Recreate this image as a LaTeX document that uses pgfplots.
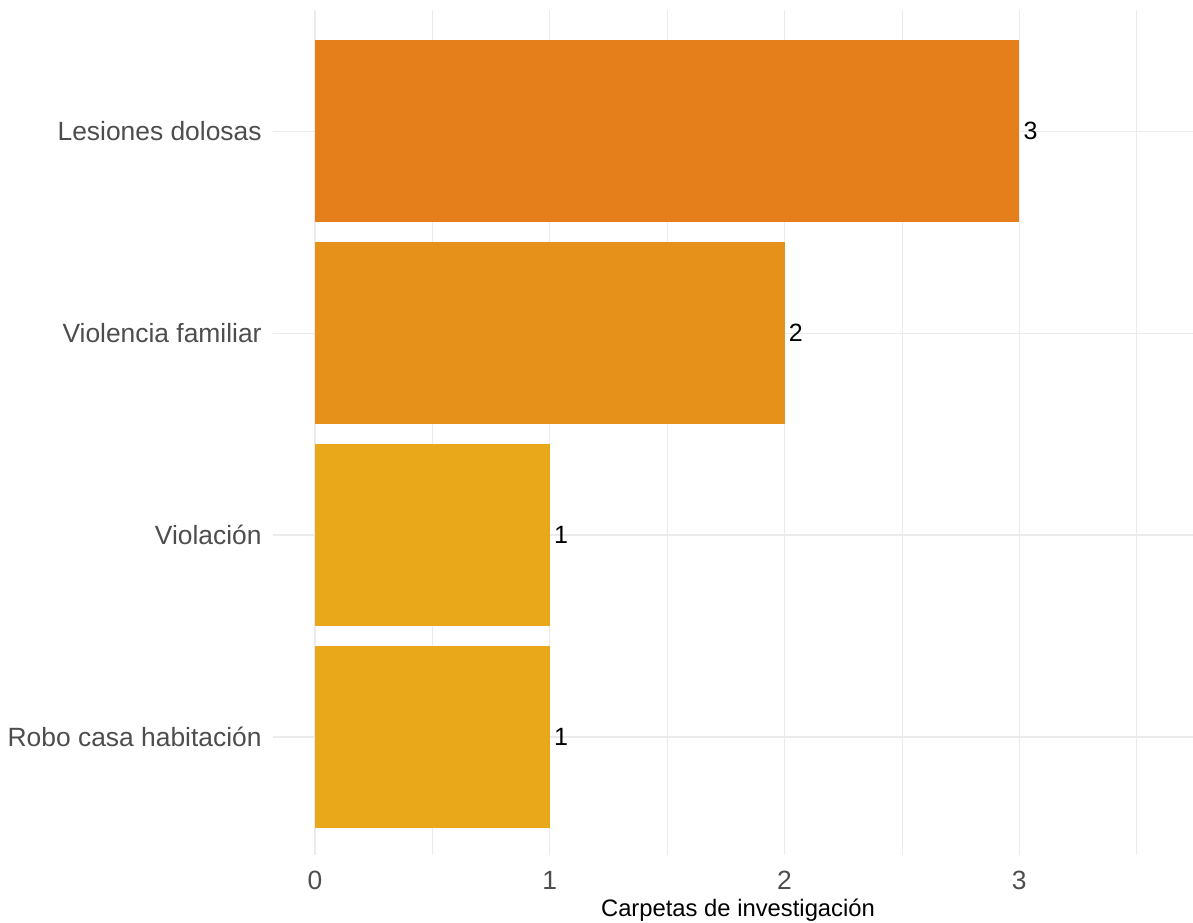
\documentclass[border=0pt]{standalone}
\usepackage{pgfplots}
\pgfplotsset{compat=1.18}
\usepackage{fontspec}
\setmainfont{Liberation Sans}

\definecolor{c1}{HTML}{E47F1B}
\definecolor{c2}{HTML}{E6921A}
\definecolor{c3}{HTML}{E9A819}
\definecolor{gridc}{HTML}{EBEBEB}
\definecolor{labc}{HTML}{4D4D4D}

\begin{document}
\begin{tikzpicture}
\begin{axis}[
  name=ax,
  scale only axis,
  width=460pt, height=422.5pt,
  xbar, bar width=0.9, bar shift=0pt,
  xmin=-0.179, xmax=3.74,
  ymin=0.416, ymax=4.6,
  xtick={0,1,2,3},
  minor xtick={0.5,1.5,2.5,3.5},
  ytick={1,2,3,4},
  yticklabels={Robo casa habitación, Violación, Violencia familiar, Lesiones dolosas},
  xmajorgrids, xminorgrids, ymajorgrids,
  major grid style={gridc, line width=0.6pt},
  minor grid style={gridc, line width=0.35pt},
  axis line style={draw=none},
  major tick length=0pt, minor tick length=0pt,
  /pgf/number format/assume math mode=true,
  tick label style={font=\fontsize{13.2}{15}\selectfont, text=labc, inner sep=0pt},
  xticklabel style={anchor=center, yshift=-12.5pt},
  yticklabel style={anchor=east, xshift=-5.5pt},
  xlabel={Carpetas de investigación},
  xlabel style={at={(axis description cs:0.5,0)}, anchor=center, yshift=-27.5pt, xshift=2.5pt,
    font=\fontsize{11.9}{14}\selectfont, text=black, inner sep=0pt},
  nodes near coords,
  every node near coord/.append style={font=\fontsize{12.5}{15}\selectfont, text=black, anchor=west, inner sep=0pt, xshift=2pt},
]
\addplot[fill=c3, draw=none] coordinates {(1,1)};
\addplot[fill=c3, draw=none] coordinates {(1,2)};
\addplot[fill=c2, draw=none] coordinates {(2,3)};
\addplot[fill=c1, draw=none] coordinates {(3,4)};
\end{axis}
\pgfresetboundingbox
\useasboundingbox ([xshift=-136.5pt, yshift=-34pt]ax.south west) rectangle ([yshift=5pt]ax.north east);
\end{tikzpicture}
\end{document}
